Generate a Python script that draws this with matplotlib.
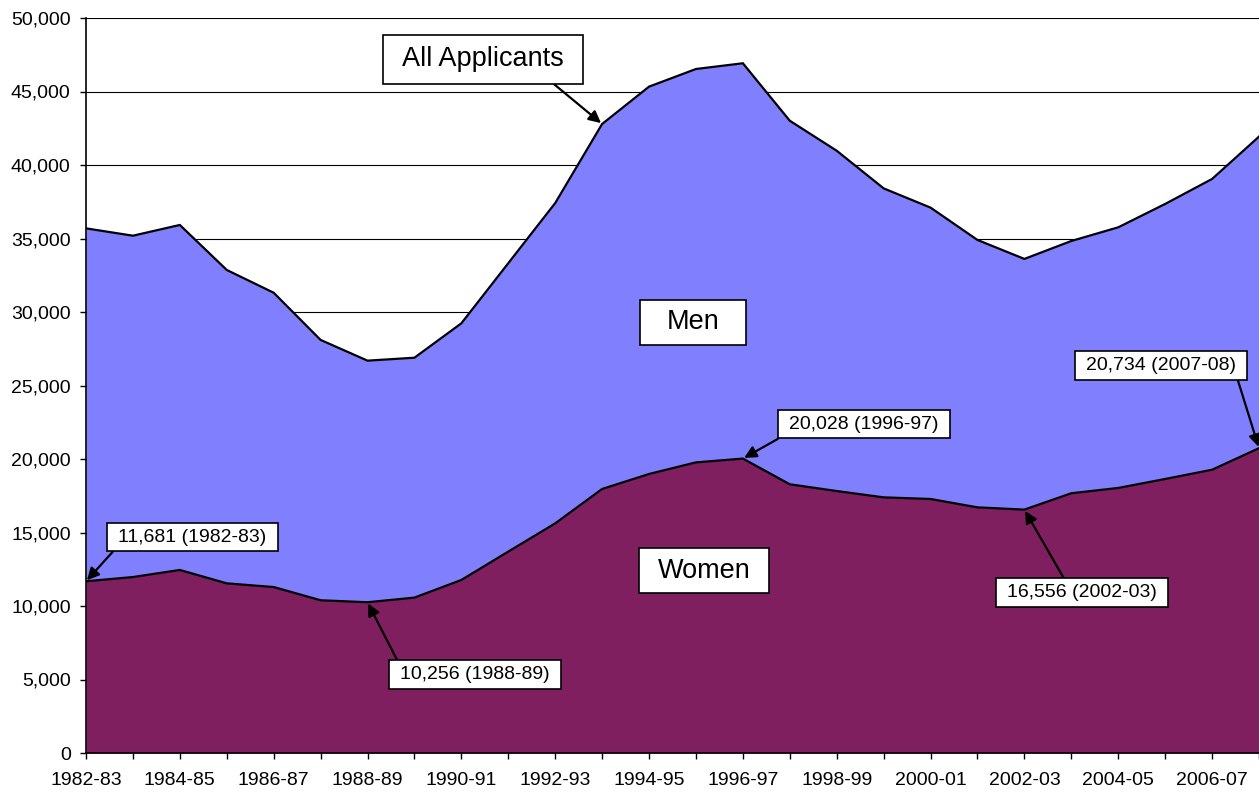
import numpy as np
import matplotlib
matplotlib.use("Agg")
import matplotlib.pyplot as plt
from matplotlib.path import Path

plt.rcParams['font.family'] = ['Liberation Sans', 'DejaVu Sans']

# Academic years, 1982-83 .. 2007-08
years = ["1982-83", "1983-84", "1984-85", "1985-86", "1986-87", "1987-88",
         "1988-89", "1989-90", "1990-91", "1991-92", "1992-93", "1993-94",
         "1994-95", "1995-96", "1996-97", "1997-98", "1998-99", "1999-00",
         "2000-01", "2001-02", "2002-03", "2003-04", "2004-05", "2005-06",
         "2006-07", "2007-08"]

# All applicants
total = [35690, 35190, 35920, 32860, 31310, 28100, 26690, 26890, 29230, 33320,
         37410, 42790, 45330, 46530, 46920, 43010, 40970, 38410, 37100, 34900,
         33610, 34830, 35760, 37350, 39050, 41930]

# Women applicants
women = [11681, 11970, 12450, 11540, 11290, 10390, 10256, 10570, 11770, 13700,
         15620, 17960, 18980, 19770, 20028, 18280, 17820, 17390, 17280, 16710,
         16556, 17670, 18030, 18640, 19270, 20734]

y_ticks = np.arange(0, 50001, 5000)

men_color = '#8080FF'
women_color = '#7F1F5F'

x = np.arange(len(years))
total = np.array(total)
women = np.array(women)


# Rectangle box with separate horizontal / vertical padding (in font sizes)
def padded_box(padx, pady):
    def box(x0, y0, width, height, mutation_size):
        px = padx * mutation_size
        py = pady * mutation_size
        xa, xb = x0 - px, x0 + width + px
        ya, yb = y0 - py, y0 + height + py
        return Path([(xa, ya), (xb, ya), (xb, yb), (xa, yb), (xa, ya)], closed=True)
    return box


def box_props(padx, pady):
    return dict(boxstyle=padded_box(padx, pady), fc='white', ec='black', lw=1.2)


fig = plt.figure(figsize=(12.59, 7.92), dpi=100)
ax = fig.add_axes([86 / 1259, 1 - 753 / 792, 1 - 86 / 1259, (753 - 18) / 792])

# grid behind the areas
for v in y_ticks[1:]:
    ax.axhline(v, color='black', lw=0.8, zorder=0)

ax.fill_between(x, women, total, color=men_color, lw=0, zorder=1)
ax.fill_between(x, 0, women, color=women_color, lw=0, zorder=1)
ax.plot(x, total, color='black', lw=1.6, zorder=2, solid_joinstyle='miter')
ax.plot(x, women, color='black', lw=1.6, zorder=2, solid_joinstyle='miter')

ax.set_xlim(0, len(years) - 1)
ax.set_ylim(0, 50000)

ax.set_xticks(x)
ax.set_xticklabels([y if i % 2 == 0 else "" for i, y in enumerate(years)])
ax.set_yticks(y_ticks)
ax.set_yticklabels([f"{v:,}" for v in y_ticks])
ax.tick_params(axis='both', direction='out', length=4, width=1, labelsize=14,
               color='black')
ax.tick_params(axis='x', pad=10)
ax.tick_params(axis='y', pad=7)

for s in ['top', 'right']:
    ax.spines[s].set_visible(False)
ax.spines['left'].set_linewidth(1.2)
ax.spines['bottom'].set_linewidth(1.2)
ax.spines['left'].set_zorder(3)
ax.spines['bottom'].set_zorder(3)

# series labels
ax.text(12.93, 29290, "Men", fontsize=19.5, ha='center', va='center',
        bbox=box_props(0.98, 0.35), zorder=5)
ax.text(13.18, 12410, "Women", fontsize=19.5, ha='center', va='center',
        bbox=box_props(0.69, 0.36), zorder=5)


def arrow(relpos):
    return dict(arrowstyle='-|>', color='black', lw=1.6, mutation_scale=18,
                relpos=relpos, shrinkA=0, shrinkB=1)


ax.annotate("All Applicants", xy=(11, total[11]), xytext=(8.46, 47200),
            fontsize=19.5, ha='center', va='center', bbox=box_props(0.7, 0.42),
            arrowprops=arrow((0.85, 0)), zorder=5, annotation_clip=False)

# callouts: (index, text position, relpos of arrow start)
callouts = [
    (0, (2.27, 14690), (0, 0)),
    (6, (8.29, 5340), (0, 1)),
    (14, (16.58, 22380), (0, 0)),
    (20, (21.23, 10920), (0.4, 1)),
    (25, (22.91, 26360), (1, 0)),
]
for i, pos, rp in callouts:
    ax.annotate(f"{women[i]:,} ({years[i]})", xy=(i, women[i]), xytext=pos,
                fontsize=14, ha='center', va='center', bbox=box_props(0.58, 0.3),
                arrowprops=arrow(rp), zorder=5, annotation_clip=False)

fig.savefig("out.png", dpi=100)
